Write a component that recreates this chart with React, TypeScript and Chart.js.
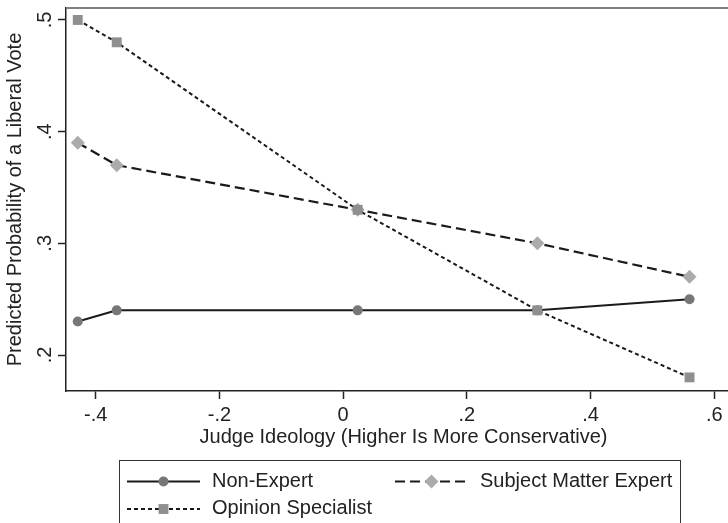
import React, { useEffect, useRef } from "react";
import { Chart, registerables } from "chart.js";

Chart.register(...registerables);

// ---- data ----
const ideology = [-0.429, -0.366, 0.0235, 0.314, 0.56];
const nonExpert = [0.23, 0.24, 0.24, 0.24, 0.25];
const subjectMatterExpert = [0.39, 0.37, 0.33, 0.3, 0.27];
const opinionSpecialist = [0.5, 0.48, 0.33, 0.24, 0.18];
const seriesNames = ["Non-Expert", "Subject Matter Expert", "Opinion Specialist"];
const xTickValues = [-0.4, -0.2, 0, 0.2, 0.4, 0.6];
const xTickLabels = ["-.4", "-.2", "0", ".2", ".4", ".6"];
const yTickValues = [0.2, 0.3, 0.4, 0.5];
const yTickLabels = [".2", ".3", ".4", ".5"];
const xTitle = "Judge Ideology (Higher Is More Conservative)";
const yTitle = "Predicted Probability of a Liberal Vote";

const FONT = '"Liberation Sans", Arial, Helvetica, sans-serif';
const TEXT = "#222222";

function lookup(values: number[], labels: string[], v: number) {
  const i = values.findIndex((t) => Math.abs(t - v) < 1e-9);
  return i >= 0 ? labels[i] : "";
}

function drawMarker(ctx: CanvasRenderingContext2D, style: string, x: number, y: number, r: number, color: string) {
  ctx.fillStyle = color;
  ctx.beginPath();
  if (style === "circle") {
    ctx.arc(x, y, r, 0, Math.PI * 2);
  } else if (style === "rectRot") {
    ctx.moveTo(x, y - r);
    ctx.lineTo(x + r, y);
    ctx.lineTo(x, y + r);
    ctx.lineTo(x - r, y);
    ctx.closePath();
  } else {
    const s = r * Math.SQRT1_2;
    ctx.rect(x - s, y - s, 2 * s, 2 * s);
  }
  ctx.fill();
}

const framePlugin = {
  id: "frame",
  beforeDraw(chart: any) {
    const ctx = chart.ctx;
    ctx.save();
    ctx.fillStyle = "#ffffff";
    ctx.fillRect(0, 0, chart.width, chart.height);
    ctx.restore();
  },
  afterDraw(chart: any) {
    const ctx = chart.ctx as CanvasRenderingContext2D;
    const a = chart.chartArea;
    ctx.save();
    // top outline of plot region
    ctx.strokeStyle = "#808080";
    ctx.lineWidth = 2;
    ctx.beginPath();
    ctx.moveTo(a.left, a.top);
    ctx.lineTo(a.right, a.top);
    ctx.stroke();

    // legend box
    ctx.strokeStyle = "#333333";
    ctx.lineWidth = 1;
    ctx.strokeRect(119.5, 460.5, 561, 90);

    const items = [
      { ds: 0, x: 127, y: 481.5, tx: 212, ty: 487 },
      { ds: 1, x: 395, y: 481.5, tx: 480, ty: 487 },
      { ds: 2, x: 127, y: 509, tx: 212, ty: 513.5 },
    ];
    items.forEach((it) => {
      const ds: any = chart.data.datasets[it.ds];
      ctx.save();
      ctx.strokeStyle = ds.borderColor;
      ctx.lineWidth = ds.borderWidth;
      ctx.setLineDash(ds.borderDash || []);
      ctx.beginPath();
      ctx.moveTo(it.x, it.y);
      ctx.lineTo(it.x + 73, it.y);
      ctx.stroke();
      ctx.restore();
      drawMarker(ctx, ds.pointStyle, it.x + 36.5, it.y, ds.pointRadius, ds.pointBackgroundColor);
      ctx.fillStyle = TEXT;
      ctx.font = `20px ${FONT}`;
      ctx.textAlign = "left";
      ctx.textBaseline = "alphabetic";
      ctx.fillText(ds.label, it.tx, it.ty);
    });
    ctx.restore();
  },
};

export default function App() {
  const ref = useRef<HTMLCanvasElement | null>(null);

  useEffect(() => {
    if (!ref.current) return;
    const mk = (ys: number[]) => ideology.map((x, i) => ({ x, y: ys[i] }));
    const chart = new Chart(ref.current, {
      type: "line",
      data: {
        datasets: [
          {
            label: seriesNames[0],
            data: mk(nonExpert),
            borderColor: "#1a1a1a",
            borderWidth: 2,
            borderDash: [],
            pointStyle: "circle",
            pointRadius: 5,
            pointBackgroundColor: "#777777",
            pointBorderColor: "#777777",
            pointBorderWidth: 0,
            tension: 0,
            order: 3,
          },
          {
            label: seriesNames[1],
            data: mk(subjectMatterExpert),
            borderColor: "#1a1a1a",
            borderWidth: 2.2,
            borderDash: [10, 5],
            pointStyle: "rectRot",
            pointRadius: 7,
            pointBackgroundColor: "#ababab",
            pointBorderColor: "#ababab",
            pointBorderWidth: 0,
            tension: 0,
            order: 2,
          },
          {
            label: seriesNames[2],
            data: mk(opinionSpecialist),
            borderColor: "#1a1a1a",
            borderWidth: 2,
            borderDash: [4, 3],
            pointStyle: "rect",
            pointRadius: 7,
            pointBackgroundColor: "#8f8f8f",
            pointBorderColor: "#8f8f8f",
            pointBorderWidth: 0,
            tension: 0,
            order: 1,
          },
        ] as any,
      },
      options: {
        responsive: false,
        animation: false,
        events: [],
        layout: { padding: { top: 8, left: 0, right: 0, bottom: 0 } },
        plugins: {
          legend: { display: false },
          tooltip: { enabled: false },
        },
        scales: {
          x: {
            type: "linear",
            min: -0.448,
            max: 0.6432,
            afterBuildTicks: (s: any) => {
              s.ticks = xTickValues.map((v) => ({ value: v }));
            },
            afterFit: (s: any) => {
              s.height = 132;
              s.paddingLeft = 0;
              s.paddingRight = 0;
            },
            ticks: {
              callback: (v: any) => lookup(xTickValues, xTickLabels, Number(v)),
              font: { size: 20, family: FONT },
              color: TEXT,
              padding: 4,
              maxRotation: 0,
              minRotation: 0,
              autoSkip: false,
            },
            grid: {
              drawOnChartArea: false,
              drawTicks: true,
              tickLength: 8,
              tickColor: TEXT,
              tickWidth: 1.5,
            },
            border: { color: TEXT, width: 1.5 },
            title: {
              display: true,
              text: xTitle,
              font: { size: 20, family: FONT },
              color: TEXT,
              padding: { top: 0, bottom: 74 },
            },
          },
          y: {
            type: "linear",
            min: 0.1678,
            max: 0.5107,
            afterBuildTicks: (s: any) => {
              s.ticks = yTickValues.map((v) => ({ value: v }));
            },
            afterFit: (s: any) => {
              s.width = 66;
              s.paddingTop = 0;
              s.paddingBottom = 0;
            },
            ticks: {
              callback: (v: any) => lookup(yTickValues, yTickLabels, Number(v)),
              font: { size: 20, family: FONT },
              color: TEXT,
              padding: 4,
              minRotation: 90,
              maxRotation: 90,
              crossAlign: "center",
              autoSkip: false,
            },
            grid: {
              drawOnChartArea: false,
              drawTicks: true,
              tickLength: 8,
              tickColor: TEXT,
              tickWidth: 1.5,
            },
            border: { color: TEXT, width: 1.5 },
            title: {
              display: true,
              text: yTitle,
              font: { size: 20, family: FONT },
              color: TEXT,
              padding: { top: 3, bottom: 0 },
            },
          },
        },
      } as any,
      plugins: [framePlugin],
    });
    return () => chart.destroy();
  }, []);

  return (
    <div
      style={{
        position: "fixed",
        left: 0,
        top: 0,
        width: 728,
        height: 523,
        overflow: "hidden",
        background: "#ffffff",
      }}
    >
      <canvas ref={ref} width={748} height={523} style={{ display: "block", width: 748, height: 523 }} />
    </div>
  );
}
